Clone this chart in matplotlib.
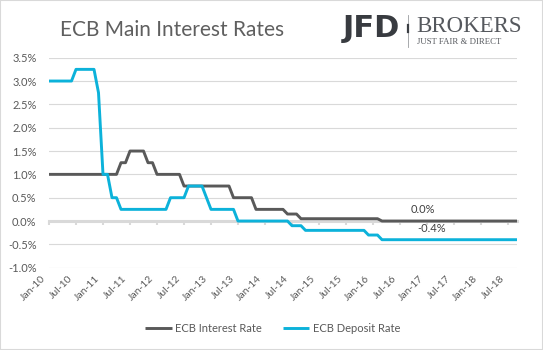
import numpy as np
import matplotlib
matplotlib.use('Agg')
import matplotlib.pyplot as plt
import matplotlib.transforms as mtransforms
from matplotlib.lines import Line2D
from matplotlib.patches import Rectangle

plt.rcParams['font.family'] = ['Lato', 'DejaVu Sans']

# monthly values, Jan-10 .. Sep-18 (one row per year)
interest_rate = [
    1.00, 1.00, 1.00, 1.00, 1.00, 1.00, 1.00, 1.00, 1.00, 1.00, 1.00, 1.00,
    1.00, 1.00, 1.00, 1.00, 1.25, 1.25, 1.50, 1.50, 1.50, 1.50, 1.25, 1.25,
    1.00, 1.00, 1.00, 1.00, 1.00, 1.00, 0.75, 0.75, 0.75, 0.75, 0.75, 0.75,
    0.75, 0.75, 0.75, 0.75, 0.75, 0.50, 0.50, 0.50, 0.50, 0.50, 0.25, 0.25,
    0.25, 0.25, 0.25, 0.25, 0.25, 0.15, 0.15, 0.15, 0.05, 0.05, 0.05, 0.05,
    0.05, 0.05, 0.05, 0.05, 0.05, 0.05, 0.05, 0.05, 0.05, 0.05, 0.05, 0.05,
    0.05, 0.05, 0.00, 0.00, 0.00, 0.00, 0.00, 0.00, 0.00, 0.00, 0.00, 0.00,
    0.00, 0.00, 0.00, 0.00, 0.00, 0.00, 0.00, 0.00, 0.00, 0.00, 0.00, 0.00,
    0.00, 0.00, 0.00, 0.00, 0.00, 0.00, 0.00, 0.00, 0.00,
]
deposit_rate = [
    3.00, 3.00, 3.00, 3.00, 3.00, 3.00, 3.25, 3.25, 3.25, 3.25, 3.25, 2.75,
    1.00, 1.00, 0.50, 0.50, 0.25, 0.25, 0.25, 0.25, 0.25, 0.25, 0.25, 0.25,
    0.25, 0.25, 0.25, 0.50, 0.50, 0.50, 0.50, 0.75, 0.75, 0.75, 0.75, 0.50,
    0.25, 0.25, 0.25, 0.25, 0.25, 0.25, 0.00, 0.00, 0.00, 0.00, 0.00, 0.00,
    0.00, 0.00, 0.00, 0.00, 0.00, 0.00, -0.10, -0.10, -0.10, -0.20, -0.20, -0.20,
    -0.20, -0.20, -0.20, -0.20, -0.20, -0.20, -0.20, -0.20, -0.20, -0.20, -0.20, -0.30,
    -0.30, -0.30, -0.40, -0.40, -0.40, -0.40, -0.40, -0.40, -0.40, -0.40, -0.40, -0.40,
    -0.40, -0.40, -0.40, -0.40, -0.40, -0.40, -0.40, -0.40, -0.40, -0.40, -0.40, -0.40,
    -0.40, -0.40, -0.40, -0.40, -0.40, -0.40, -0.40, -0.40, -0.40,
]
x_labels = ['Jan-10', 'Jul-10', 'Jan-11', 'Jul-11', 'Jan-12', 'Jul-12',
            'Jan-13', 'Jul-13', 'Jan-14', 'Jul-14', 'Jan-15', 'Jul-15',
            'Jan-16', 'Jul-16', 'Jan-17', 'Jul-17', 'Jan-18', 'Jul-18']
y_ticks = [-1.0, -0.5, 0.0, 0.5, 1.0, 1.5, 2.0, 2.5, 3.0, 3.5]
series_names = ['ECB Interest Rate', 'ECB Deposit Rate']
# data labels: (series index, month index)
labelled_points = [(0, 83), (1, 85)]

GREY = '#595959'
BLUE = '#0cb2da'
GRID = '#d9d9d9'
W, H = 543, 350

months = np.arange(len(interest_rate))
tick_pos = np.arange(len(x_labels)) * 6

fig = plt.figure(figsize=(W / 100, H / 100), dpi=100)
ax = fig.add_axes([49 / W, 1 - 267.7 / H, (517 - 49) / W, (267.7 - 57.7) / H])

series = [interest_rate, deposit_rate]
colors = [GREY, BLUE]
for vals, col, name in zip(series, colors, series_names):
    ax.plot(months, vals, color=col, lw=2.1, label=name, zorder=3,
            solid_joinstyle='round', solid_capstyle='butt')

ax.set_xlim(0, len(months) - 1)
ax.set_ylim(y_ticks[0], y_ticks[-1])
ax.set_yticks(y_ticks)
ax.set_yticklabels([f'{v:.1f}%' for v in y_ticks])
ax.grid(axis='y', color=GRID, lw=0.8)
ax.set_axisbelow(True)
for s in ['top', 'right', 'left']:
    ax.spines[s].set_visible(False)
ax.spines['bottom'].set_position(('data', 0))
ax.spines['bottom'].set_color(GRID)
ax.spines['bottom'].set_linewidth(2.2)
ax.spines['bottom'].set_zorder(2)
ax.set_xticks(tick_pos)
ax.tick_params(axis='x', length=3, width=1.5, color=GRID, labelbottom=False)
ax.tick_params(axis='y', length=0, pad=9, labelsize=8, labelcolor=GREY)

# category labels sit below the plot area
sec = ax.secondary_xaxis('bottom')
sec.set_xticks(tick_pos)
sec.set_xticklabels(x_labels)
sec.spines['bottom'].set_visible(False)
sec.tick_params(length=0, pad=7, labelsize=7.5, labelcolor=GREY)
shift = mtransforms.ScaledTranslation(-5 / 100, 0, fig.dpi_scale_trans)
for lab in sec.get_xticklabels():
    lab.set_rotation(45)
    lab.set_ha('right')
    lab.set_va('center')
    lab.set_rotation_mode('anchor')
    lab.set_transform(lab.get_transform() + shift)

for si, m in labelled_points:
    v = series[si][m]
    ax.annotate(f'{v:.1f}%', xy=(m, v), xytext=(0, 8), textcoords='offset points',
                ha='center', va='center', fontsize=8, color='#404040')

leg = fig.legend(loc='center', bbox_to_anchor=(272.5 / W, 1 - 328 / H), ncol=2,
                 frameon=False, fontsize=8, handlelength=2.4, handletextpad=0.3,
                 columnspacing=1.9, labelcolor=GREY)

# title and logo
fig.text(60 / W, 1 - 36 / H, 'ECB Main Interest Rates', fontsize=15,
         color='#5f5f5f', va='baseline', ha='left')
fig.text(343 / W, 1 - 37 / H, 'JFD', fontsize=22, fontweight='bold',
         family='DejaVu Sans', color='#383b40', va='baseline', ha='left')
fig.add_artist(Line2D([408 / W, 408 / W], [1 - 15 / H, 1 - 47 / H],
                      transform=fig.transFigure, color='#9a9ca0', lw=0.6))
fig.add_artist(Line2D([408 / W, 408 / W], [1 - 25 / H, 1 - 32 / H],
                      transform=fig.transFigure, color='#3c3f44', lw=1.6))
fig.text(416 / W, 1 - 32.5 / H, 'BROKERS', fontsize=16.5, family='Liberation Serif',
         color='#55585d', va='baseline', ha='left')
fig.text(417 / W, 1 - 44 / H, 'JUST FAIR & DIRECT', fontsize=6.3,
         family='Liberation Serif', color='#55585d', va='baseline', ha='left')

fig.add_artist(Rectangle((0, 0), 1, 1, transform=fig.transFigure, fill=False,
                         edgecolor=GRID, lw=1.5))

fig.savefig('out.png', dpi=100)
